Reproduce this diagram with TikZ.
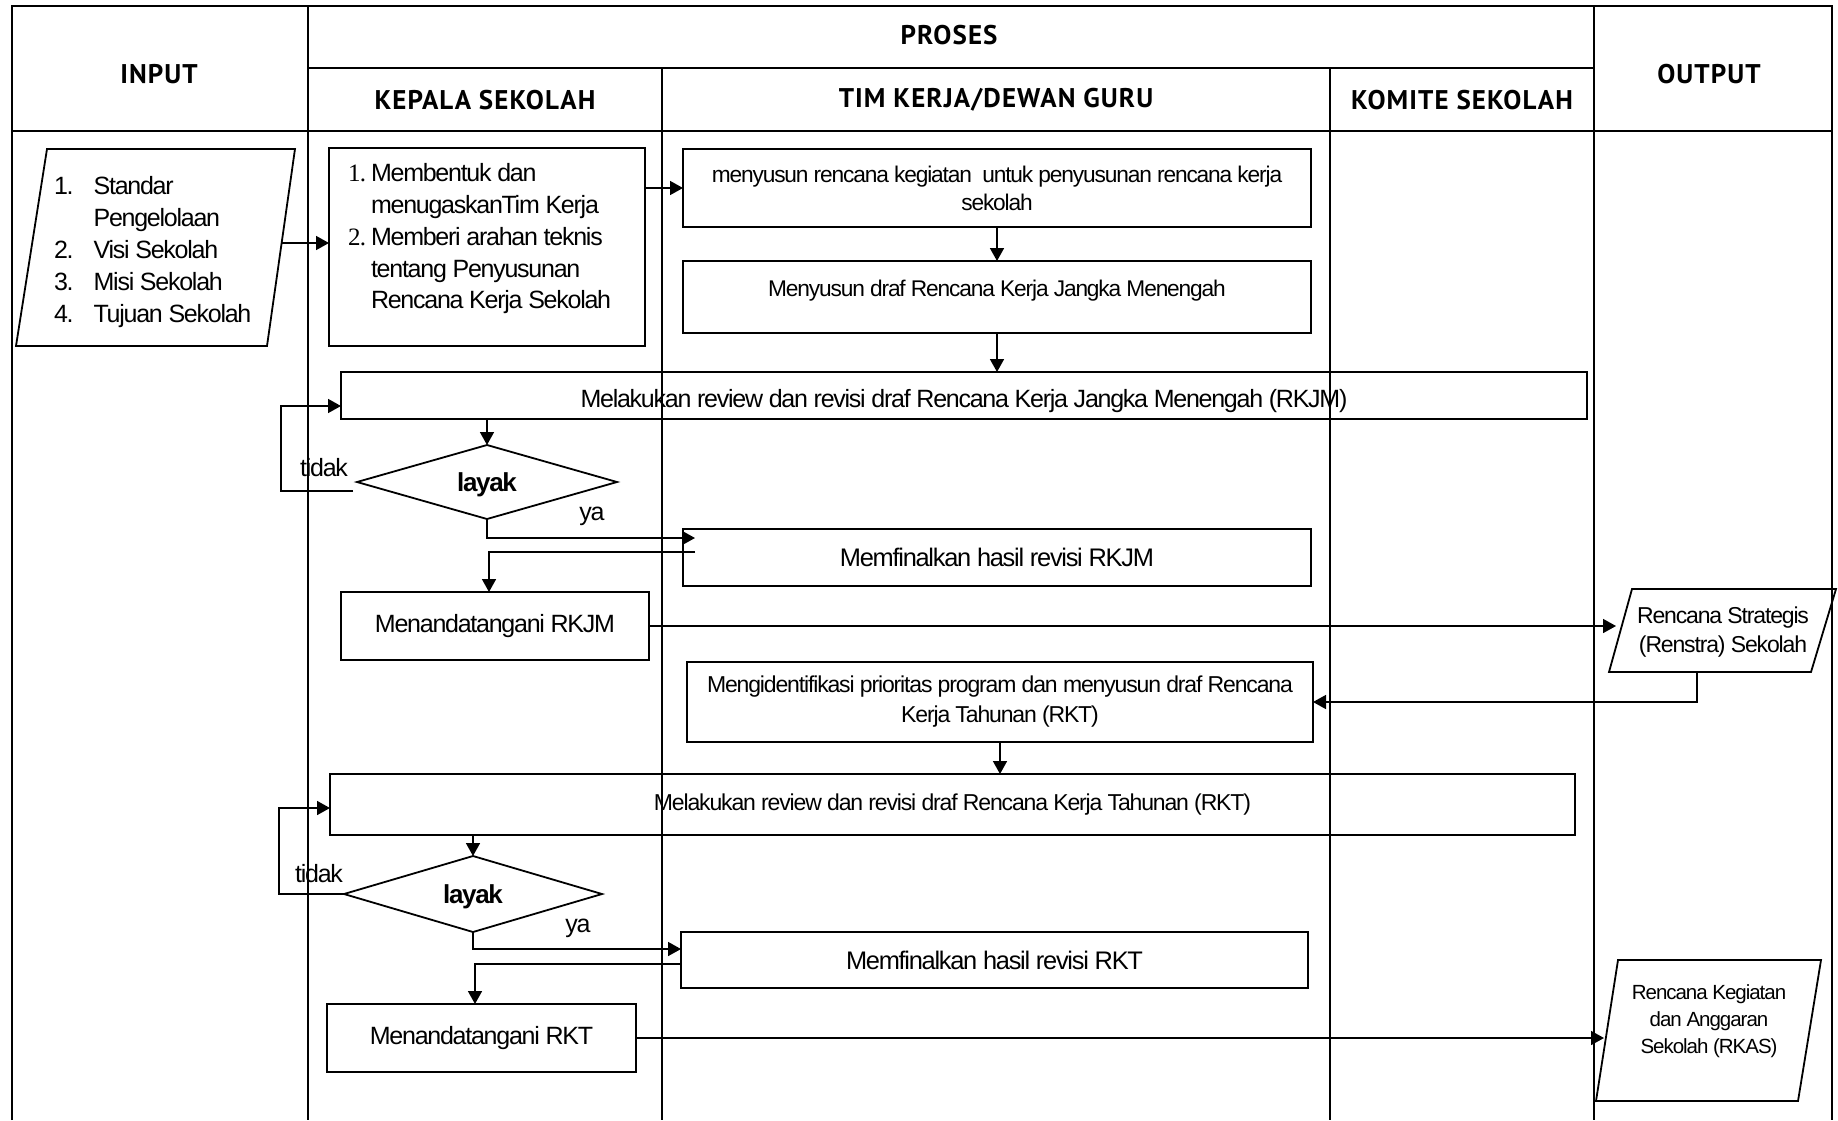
\documentclass[tikz,border=0pt]{standalone}
\usepackage{fontspec}
\newfontfamily\bodyf{Liberation Sans}[LetterSpace=-5]
\newfontfamily\numf{Liberation Serif}[LetterSpace=-3]
\newfontfamily\headf{PT Sans}[LetterSpace=4]
\usetikzlibrary{arrows.meta,calc,shapes.geometric}
\begin{document}
\begin{tikzpicture}[x=1pt,y=-1pt,
  every node/.style={inner sep=0pt,outer sep=0pt},
  gridline/.style={line width=2.4pt},
  hd/.style={font=\headf\bfseries\fontsize{27}{32}\selectfont},
  box/.style={draw,line width=1.8pt,align=center},
  para/.style={draw,line width=1.8pt},
  dia/.style={draw,line width=1.8pt,shape=diamond,aspect=3.5,text depth=0pt,font=\bodyf\bfseries\fontsize{26}{30}\selectfont},
  arr/.style={line width=1.6pt,-{Triangle[length=13pt,width=14pt]}},
  lbl/.style={font=\bodyf\fontsize{25}{30}\selectfont},
]
\useasboundingbox (0,0) rectangle (1838,1120);

% table grid
\draw[gridline] (12,1120) -- (12,6) -- (1832,6) -- (1832,1120);
\draw[gridline] (308,6) -- (308,1120);
\draw[gridline] (1594,6) -- (1594,1120);
\draw[gridline] (308,68) -- (1594,68);
\draw[gridline] (12,131) -- (1832,131);
\draw[gridline] (662,68) -- (662,1120);
\draw[gridline] (1330,68) -- (1330,1120);

% headers
\node[hd] (hproses) at (949,35) {PROSES};
\node[hd] (hinput) at (159,74) {INPUT};
\node[hd] (houtput) at (1709,74) {OUTPUT};
\node[hd] (hkepala) at (485,100) {KEPALA SEKOLAH};
\node[hd] (htim) at (996,100) {TIM KERJA/DEWAN GURU};
\node[hd] (hkomite) at (1462,100) {KOMITE SEKOLAH};

% input parallelogram
\draw[para] (47,149) -- (295,149) -- (267,346) -- (16,346) -- cycle;
\node[anchor=west,font=\bodyf\fontsize{25}{32.2}\selectfont] (inptext) at (54,252)
  {\begin{tabular}{@{}l@{\hspace{20pt}}l@{}}1. & Standar\\ & Pengelolaan\\ 2. & Visi Sekolah\\ 3. & Misi Sekolah\\ 4. & Tujuan Sekolah\end{tabular}};
\coordinate (inR) at (282,243);

% kepala sekolah box 1
\node[box,minimum width=316pt,minimum height=198pt] (k1) at (487,247) {};
\node[anchor=west,font=\bodyf\fontsize{25}{31.8}\selectfont] (k1text) at (348,239)
  {\begin{tabular}{@{}l@{\hspace{5pt}}l@{}}{\numf 1.} & Membentuk dan\\ & menugaskanTim Kerja\\ {\numf 2.} & Memberi arahan teknis\\ & tentang Penyusunan\\ & Rencana Kerja Sekolah\end{tabular}};

% tim kerja boxes
\node[box,minimum width=628pt,minimum height=78pt,font=\bodyf\fontsize{22.7}{28}\selectfont] (tA) at (997,188)
  {menyusun rencana kegiatan\ \ untuk penyusunan rencana kerja\\ sekolah};
\node[box,minimum width=628pt,minimum height=72pt,text height=17pt,text depth=19pt,font=\bodyf\fontsize{22.7}{28}\selectfont] (tB) at (997,297)
  {Menyusun draf Rencana Kerja Jangka Menengah};

% review 1
\node[box,minimum width=1246pt,minimum height=47pt,text height=23pt,text depth=0pt,font=\bodyf\fontsize{25}{30}\selectfont] (r1) at (964,395.5)
  {Melakukan review dan revisi draf Rencana Kerja Jangka Menengah (RKJM)};
\node[dia,minimum width=260pt,minimum height=74pt] (d1) at (487,482) {layak};
\node[lbl] (tidak1) at (324,468) {tidak};
\node[lbl] (ya1) at (592,516) {ya};

\node[box,minimum width=628pt,minimum height=57pt,font=\bodyf\fontsize{25.4}{30}\selectfont] (f1) at (997,557.5)
  {Memfinalkan hasil revisi RKJM};
\node[box,minimum width=308pt,minimum height=68pt,font=\bodyf\fontsize{25}{30}\selectfont] (k2) at (495,626)
  {Menandatangani RKJM};

% renstra
\draw[para] (1632,589) -- (1836,589) -- (1811,672) -- (1609,672) -- cycle;
\node[align=center,font=\bodyf\fontsize{23}{29}\selectfont] (rstext) at (1723,632.5)
  {Rencana Strategis\\(Renstra) Sekolah};
\coordinate (rsL) at (1616,626);
\coordinate (rsB) at (1697,672);

\node[box,minimum width=626pt,minimum height=80pt,font=\bodyf\fontsize{23}{30}\selectfont] (tI) at (1000,702)
  {Mengidentifikasi prioritas program dan menyusun draf Rencana\\ Kerja Tahunan (RKT)};

% review 2
\node[box,minimum width=1245pt,minimum height=61pt,font=\bodyf\fontsize{23}{30}\selectfont] (r2) at (952.5,804.5)
  {Melakukan review dan revisi draf Rencana Kerja Tahunan (RKT)};
\node[dia,minimum width=258pt,minimum height=76pt] (d2) at (473,894) {layak};
\node[lbl] (tidak2) at (319,874) {tidak};
\node[lbl] (ya2) at (578,928) {ya};

\node[box,minimum width=627pt,minimum height=56pt,font=\bodyf\fontsize{25.4}{30}\selectfont] (f2) at (994.5,960)
  {Memfinalkan hasil revisi RKT};
\node[box,minimum width=309pt,minimum height=68pt,font=\bodyf\fontsize{25}{30}\selectfont] (k3) at (481.5,1038)
  {Menandatangani RKT};

% RKAS
\draw[para] (1618,960) -- (1821,960) -- (1798,1101) -- (1596,1101) -- cycle;
\node[align=center,font=\bodyf\fontsize{20.5}{27}\selectfont] (rktext) at (1709,1021)
  {Rencana Kegiatan\\dan Anggaran\\Sekolah (RKAS)};
\coordinate (rkL) at (1604,1038);

% connectors
\draw[arr] (inR) -- (inR -| k1.west);
\draw[arr] (k1.east |- tA.west) -- (tA.west);
\draw[arr] (tA) -- (tB);
\draw[arr] (tB.south) -- (tB.south |- r1.north);
\draw[arr] (d1.north |- r1.south) -- (d1.north);
\coordinate (lp1) at (281,406);
\draw[arr] ($(d1.west)+(-4,9)$) -| (lp1) -- (lp1 -| r1.west);
\draw[arr] (d1.south) |- ($(f1.west)+(12,-19.5)$);
\draw[arr] ($(f1.west)+(12,-5.5)$) -| ($(k2.north)+(-6,0)$);
\draw[arr] (k2.east) -- (rsL);
\draw[arr] (rsB) |- (tI.east);
\draw[arr] (tI.south) -- (tI.south |- r2.north);
\draw[arr] (d2.north |- r2.south) -- (d2.north);
\coordinate (lp2) at (279,808);
\draw[arr] (d2.west) -| (lp2) -- (lp2 -| r2.west);
\draw[arr] (d2.south) |- ($(f2.west)+(0,-11)$);
\draw[arr] ($(f2.west)+(0,4)$) -| ($(k3.north)+(-6.5,0)$);
\draw[arr] (k3.east) -- (rkL);
\end{tikzpicture}
\end{document}
